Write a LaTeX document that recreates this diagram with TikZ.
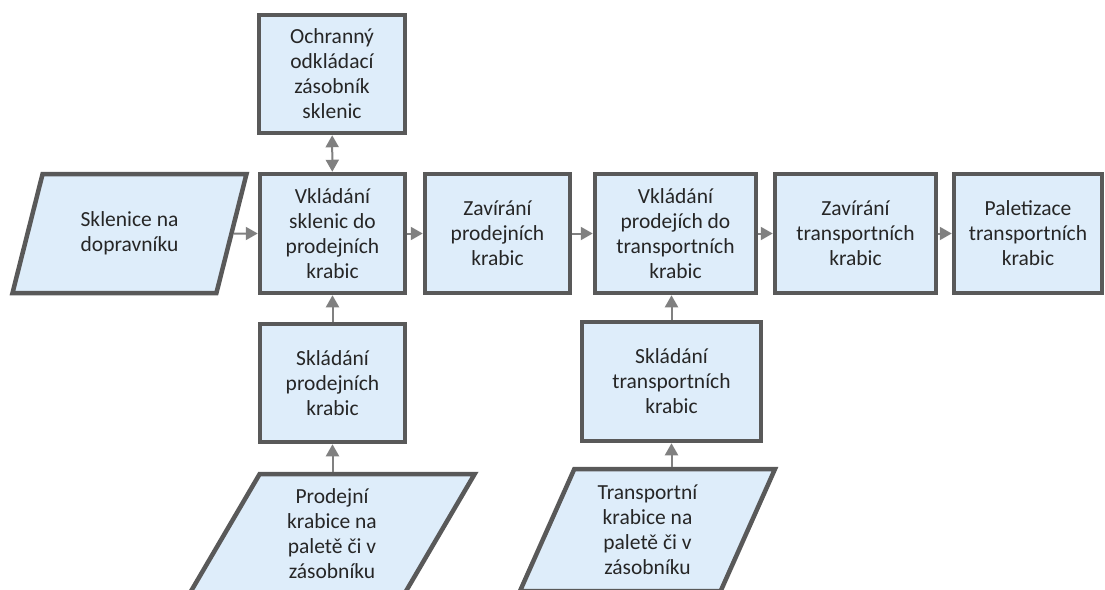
\documentclass[tikz,border=0pt]{standalone}
\usepackage{fontspec}
\setmainfont{Carlito}
\definecolor{boxfill}{RGB}{222,237,250}
\definecolor{boxline}{RGB}{89,89,89}
\definecolor{arrowgray}{RGB}{128,128,128}
\definecolor{textgray}{RGB}{38,38,38}
\usepackage{tikz}
\usetikzlibrary{shapes.geometric,arrows.meta}

\begin{document}
\begin{tikzpicture}[x=1pt, y=-1pt,
    every node/.style={font=\fontsize{21.5}{25}\selectfont, text=textgray, align=center},
    procbox/.style={rectangle, draw=boxline, fill=boxfill, line width=4.5pt, inner sep=0pt},
    databox/.style={trapezium, draw=boxline, fill=boxfill, line width=4.5pt, inner sep=0pt, trapezium stretches=true},
    flow/.style={draw=arrowgray, line width=2pt, -{Triangle[length=12pt,width=13pt]}},
    flowboth/.style={draw=arrowgray, line width=2pt, {Triangle[length=12pt,width=13pt]}-{Triangle[length=12pt,width=13pt]}}]
        \useasboundingbox (0,0) rectangle (1105,589);
        % Main line
        \node[procbox,minimum width=145,minimum height=119] (vklS) at (332.5,233.5) {Vkládání\\sklenic do\\prodejních\\krabic};
        \node[procbox,minimum width=145,minimum height=119] (zavP) at (497.5,233.5) {Zavírání\\prodejních\\krabic};
        \node[procbox,minimum width=161,minimum height=119] (vklP) at (675.5,233.5) {Vkládání\\prodejích do\\transportních\\krabic};
        \node[procbox,minimum width=161,minimum height=119] (zavT) at (855.5,233.5) {Zavírání\\transportních\\krabic};
        \node[procbox,minimum width=148,minimum height=119] (pal) at (1028,233.5) {Paletizace\\transportních\\krabic};
        % Side boxes
        \node[procbox,minimum width=146,minimum height=118] (ochr) at (332,74) {Ochranný\\odkládací\\zásobník\\sklenic};
        \node[procbox,minimum width=145,minimum height=118] (sklP) at (332.5,383) {Skládání\\prodejních\\krabic};
        \node[procbox,minimum width=179,minimum height=119] (sklT) at (671.5,381.5) {Skládání\\transportních\\krabic};
        % Inputs
        \node[databox,trapezium left angle=68.7,trapezium right angle=111.3,minimum width=234,minimum height=119] (skl) at (129.5,233.5) {Sklenice na\\dopravníku};
        \node[databox,trapezium left angle=64.2,trapezium right angle=115.8,minimum width=286,minimum height=120] (prodK) at (332,534) {Prodejní\\krabice na\\paletě či v\\zásobníku};
        \node[databox,trapezium left angle=67.6,trapezium right angle=112.4,minimum width=255,minimum height=122] (transK) at (647.5,530) {Transportní\\krabice na\\paletě či v\\zásobníku};
        % Arrows
        \draw[flow] (skl.east) -- (vklS.west);
        \draw[flow] (vklS) -- (zavP);
        \draw[flow] (zavP) -- (vklP);
        \draw[flow] (vklP) -- (zavT);
        \draw[flow] (zavT) -- (pal);
        \draw[flowboth] (ochr) -- (vklS);
        \draw[flow] (sklP) -- (vklS);
        \draw[flow] (sklP.south |- prodK.north) -- (sklP.south);
        \draw[flow] (sklT) -- (sklT |- vklP.south);
        \draw[flow] (sklT.south |- transK.north) -- (sklT.south);
      \end{tikzpicture}
\end{document}
